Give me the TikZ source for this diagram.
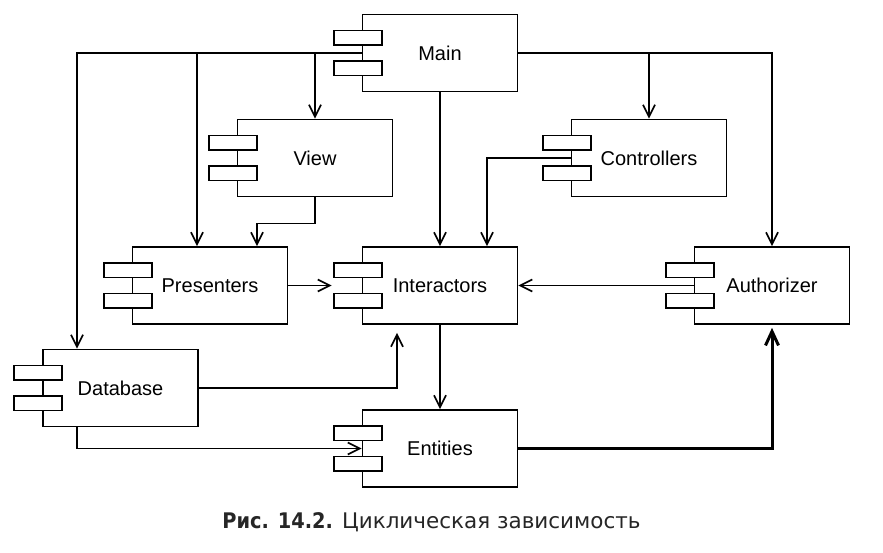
\documentclass[tikz,border=0pt]{standalone}
\usepackage{fontspec}
\setmainfont{Liberation Sans}
\newfontfamily\captionfont{DejaVu Sans}
\newfontfamily\captionboldfont{DejaVu Sans Condensed Bold}
\usetikzlibrary{arrows.meta,calc}

\begin{document}
\begin{tikzpicture}[
    x=1pt, y=-1pt,
    compbox/.style={draw, line width=1.7pt, fill=white, minimum width=155pt, minimum height=77pt, inner sep=0pt, font=\fontsize{20}{24}\selectfont},
    compstub/.style={draw, line width=1.7pt, fill=white},
    deparrow/.style={-{Straight Barb[length=12pt, width=12pt, line width=1.7pt]}, line width=1.6pt},
    cyclearrow/.style={-{Straight Barb[length=14pt, width=13pt, line width=3pt]}, line width=3pt}
  ]
    \useasboundingbox (0,0) rectangle (883,553);
    \node[compbox] (main) at (440,53) {Main};
    \node[compbox] (view) at (315,158) {View};
    \node[compbox] (controllers) at (649,158) {Controllers};
    \node[compbox] (presenters) at (210,285.5) {Presenters};
    \node[compbox] (interactors) at (440,285.5) {Interactors};
    \node[compbox] (authorizer) at (772,285.5) {Authorizer};
    \node[compbox] (database) at (120.5,388) {Database};
    \node[compbox] (entities) at (440,448.5) {Entities};
    % component stubs on the left edge
    \foreach \comp in {main,view,controllers,presenters,interactors,authorizer,database,entities} {
      \draw[compstub] ([xshift=-28pt,yshift=8pt]\comp.west) rectangle ([xshift=20pt,yshift=22.5pt]\comp.west);
      \draw[compstub] ([xshift=-28pt,yshift=-8pt]\comp.west) rectangle ([xshift=20pt,yshift=-22.5pt]\comp.west);
    }
    % dependencies of Main
    \draw[deparrow] (main.west) -| ([xshift=-43.5pt]database.north);
    \draw[deparrow] (main.west) -| ([xshift=-13pt]presenters.north);
    \draw[deparrow] (main.west) -| (view.north);
    \draw[deparrow] (main) -- (interactors);
    \draw[deparrow] (main.east) -| (controllers.north);
    \draw[deparrow] (main.east) -| (authorizer.north);
    % the rest
    \draw[deparrow] (view.south) -- ++(0,26) -| ([xshift=47pt]presenters.north);
    \draw[deparrow] (controllers.west) -| ([xshift=47pt]interactors.north);
    \draw[deparrow] (presenters.east) -- ([xshift=-30pt]interactors.west);
    \draw[deparrow] (authorizer.west) -- (interactors.east);
    \draw[deparrow] (database.east) -| ([xshift=-43pt,yshift=-8pt]interactors.south);
    \draw[deparrow] ([xshift=-43.5pt]database.south) |- (entities.west);
    \draw[deparrow] (interactors) -- (entities);
    \draw[cyclearrow] (entities.east) -| ([yshift=-3pt]authorizer.south);
    \node[font=\captionfont\fontsize{21.5}{25}\selectfont, text=black!85] (caption) at (431.5,522) {{\captionboldfont Рис. 14.2.} Циклическая зависимость};
\end{tikzpicture}
\end{document}
